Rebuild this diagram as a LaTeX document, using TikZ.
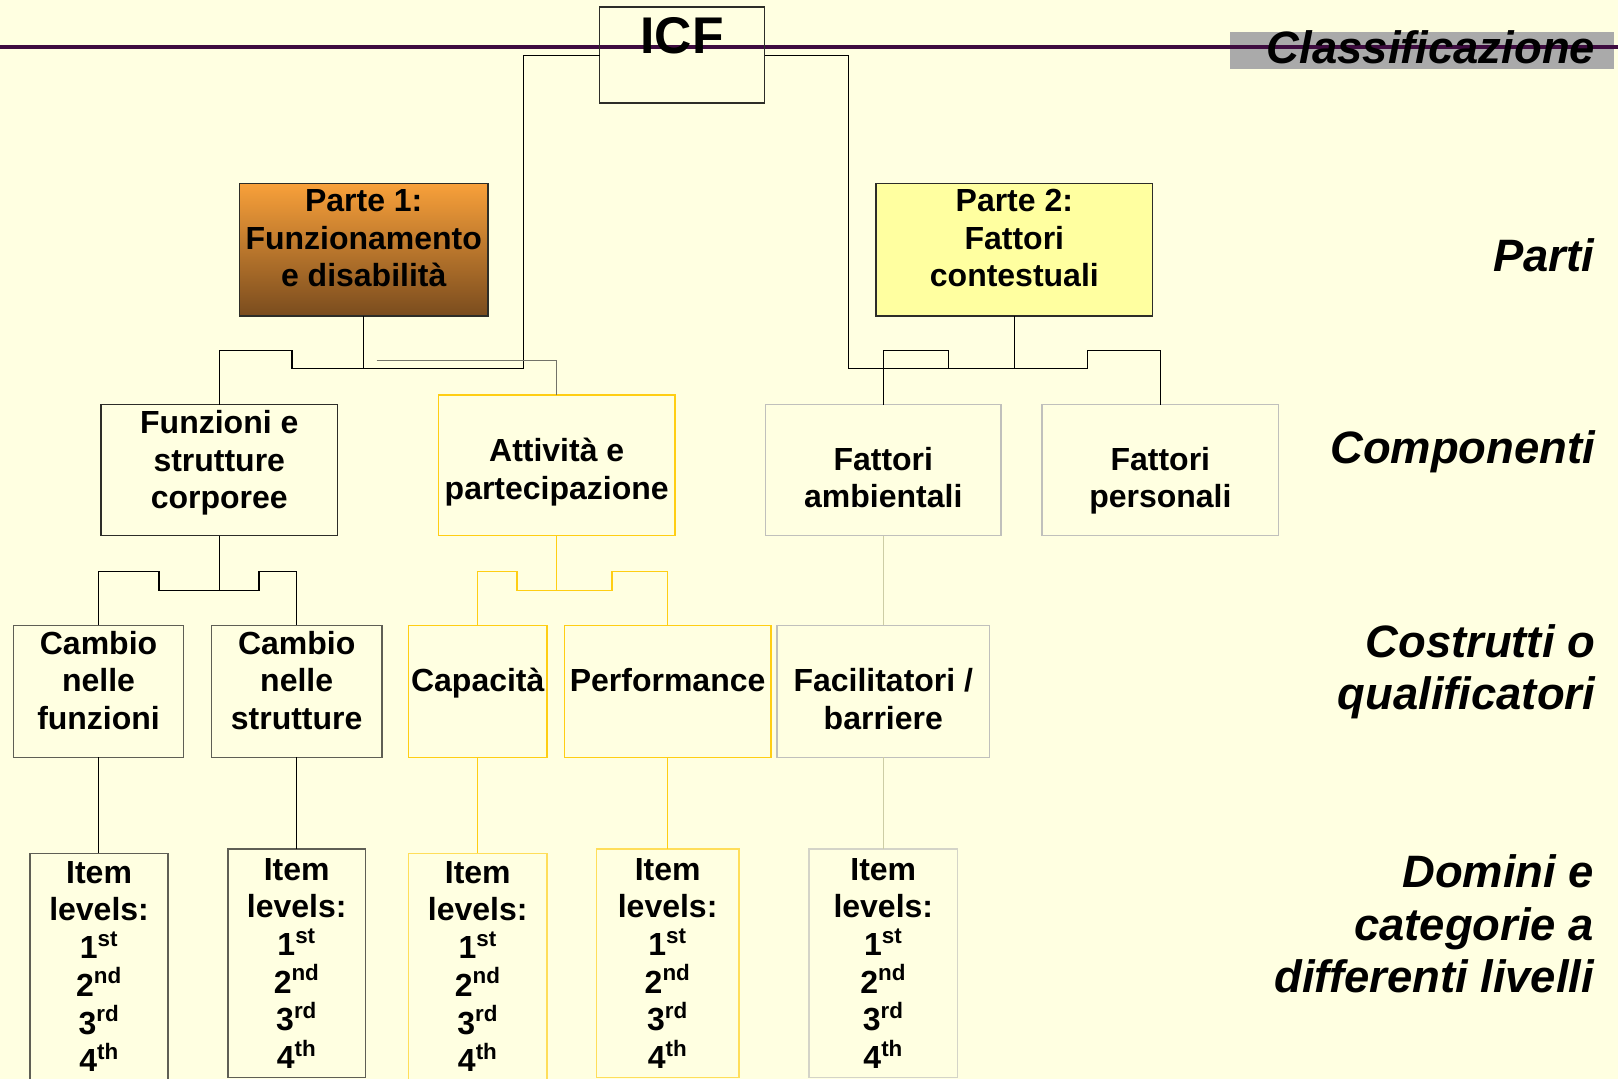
\documentclass[tikz,border=0pt]{standalone}
\usepackage{fontspec}
\setmainfont{Liberation Sans}
\usetikzlibrary{shadings}
\newdimen\upx \upx=0.75pt
\newcommand{\bxt}[4]{\parbox[c][#2\upx][t]{#1\upx}{\centering\vspace*{#3\upx}\strut#4\par}}
\definecolor{bg}{RGB}{255,255,225}
\definecolor{purp}{RGB}{62,12,64}
\definecolor{dkb}{RGB}{45,45,40}
\definecolor{itb}{RGB}{95,95,85}
\definecolor{yel}{RGB}{255,206,20}
\definecolor{yel2}{RGB}{255,222,90}
\definecolor{lgr}{RGB}{192,192,188}
\definecolor{lgr2}{RGB}{212,212,200}
\definecolor{olv}{RGB}{205,205,165}
\definecolor{gcon}{RGB}{115,115,105}
\definecolor{p2fill}{RGB}{255,255,160}
\definecolor{org}{RGB}{248,160,58}
\definecolor{brn}{RGB}{122,76,30}
\definecolor{clsgray}{RGB}{170,170,170}
\tikzset{
  txt/.style={font=\fontsize{23.25pt}{27.4pt}\selectfont\bfseries},
  bx/.style={draw=dkb, line width=1.1pt, inner sep=0pt, outer sep=0pt, txt},
  ybx/.style={bx, draw=yel},
  gbx/.style={bx, draw=lgr},
  ibx/.style={bx, draw=itb},
  conn/.style={draw=black, line width=0.9pt},
  yconn/.style={draw=yel, line width=0.9pt},
  oconn/.style={draw=olv, line width=0.9pt},
  gconn/.style={draw=gcon, line width=0.9pt},
  lab/.style={anchor=base east, align=right, inner sep=0pt,
    font=\fontsize{33pt}{38.25pt}\selectfont\bfseries\itshape},
}
\begin{document}
\begin{tikzpicture}[x=0.75pt, y=-0.75pt]
\path[use as bounding box, fill=bg] (0,0) rectangle (1568,1045.65);
% title bar
\fill[clsgray] (1192,30.7) rectangle (1564,67);
\draw[purp, line width=2.5pt] (0,45.5) -- (1568,45.5);
\node[lab] (cls) at (1546,61.4) {Classificazione};
% level labels (base = last line)
\node[lab] (parti) at (1545,263.5) {Parti};
\node[lab] (comp) at (1546,449) {Componenti};
\node[lab] (cost) at (1546,688) {Costrutti o\\qualificatori};
\node[lab] (dom) at (1545,962) {Domini e\\categorie a\\differenti livelli};
% boxes
\node[bx, font=\fontsize{37.5pt}{45pt}\selectfont\bfseries] (icf) at (661,53.5) {\bxt{160}{93}{3.3}{ICF}};
\node[bx, draw=dkb, top color=org, bottom color=brn] (p1) at (352.5,242) {\bxt{241}{128}{1.4}{Parte 1:\\Funzionamento\\e disabilità}};
\node[bx, fill=p2fill] (p2) at (983,242) {\bxt{268}{128}{1.4}{Parte 2:\\Fattori\\contestuali}};
\node[bx] (fun) at (212.5,455.5) {\bxt{229}{127}{2.4}{Funzioni e\\strutture\\corporee}};
\node[ybx] (att) at (539.5,451) {\bxt{229}{136}{38.8}{Attività e\\partecipazione}};
\node[gbx] (famb) at (856,455.5) {\bxt{228}{127}{37.9}{Fattori\\ambientali}};
\node[gbx] (fpers) at (1124.5,455.5) {\bxt{229}{127}{37.9}{Fattori\\personali}};
\node[bx, draw=itb] (cf) at (95.5,670) {\bxt{165}{128}{2.4}{Cambio\\nelle\\funzioni}};
\node[bx, draw=itb] (cs) at (287.5,670) {\bxt{165}{128}{2.4}{Cambio\\nelle\\strutture}};
\node[ybx] (cap) at (463,670) {\bxt{134}{128}{38.4}{Capacità}};
\node[ybx] (perf) at (647,670) {\bxt{200}{128}{38.4}{Performance}};
\node[gbx] (fac) at (856,670) {\bxt{206}{128}{38.4}{Facilitatori /\\barriere}};
\node[ibx] (it1) at (96,938.5) {\bxt{134}{223}{3.4}{Item\\levels:\\1\textsuperscript{st}\\2\textsuperscript{nd}\\3\textsuperscript{rd}\\4\textsuperscript{th}}};
\node[ibx] (it2) at (287.5,933.5) {\bxt{133}{221}{4.4}{Item\\levels:\\1\textsuperscript{st}\\2\textsuperscript{nd}\\3\textsuperscript{rd}\\4\textsuperscript{th}}};
\node[ybx, draw=yel2] (it3) at (463,938.5) {\bxt{134}{223}{3.4}{Item\\levels:\\1\textsuperscript{st}\\2\textsuperscript{nd}\\3\textsuperscript{rd}\\4\textsuperscript{th}}};
\node[ybx, draw=yel2] (it4) at (647,933.5) {\bxt{138}{221}{4.4}{Item\\levels:\\1\textsuperscript{st}\\2\textsuperscript{nd}\\3\textsuperscript{rd}\\4\textsuperscript{th}}};
\node[gbx, draw=lgr2] (it5) at (856,933.5) {\bxt{144}{221}{4.4}{Item\\levels:\\1\textsuperscript{st}\\2\textsuperscript{nd}\\3\textsuperscript{rd}\\4\textsuperscript{th}}};
% connectors level 1-2
\draw[conn] (icf.west) -| (507,357) -- (283,357) -- (283,340) -| (fun.north);
\draw[conn] (p1.south) -- (352.5,357);
\draw[gconn] (365,349) -| (att.north);
\draw[conn] (icf.east) -| (822,357) -- (1054,357) -- (1054,340) -| (fpers.north);
\draw[conn] (919,357) -- (919,340) -| (famb.north);
\draw[conn] (p2.south) -- (983,357);
% level 2-3
\draw[conn] (fun.south) -- (212.5,572);
\draw[conn] (cf.north) |- (154,554) -- (154,572) -- (251,572) -- (251,554) -| (cs.north);
\draw[yconn] (att.south) -- (539.5,572);
\draw[yconn] (cap.north) |- (501,554) -- (501,572) -- (593,572) -- (593,554) -| (perf.north);
\draw[oconn] (famb.south) -- (fac.north);
% level 3-4
\draw[conn] (cf.south) -- (cf.south |- it1.north);
\draw[conn] (cs.south) -- (it2.north);
\draw[yconn] (cap.south) -- (it3.north);
\draw[yconn] (perf.south) -- (it4.north);
\draw[oconn] (fac.south) -- (it5.north);
\end{tikzpicture}
\end{document}
